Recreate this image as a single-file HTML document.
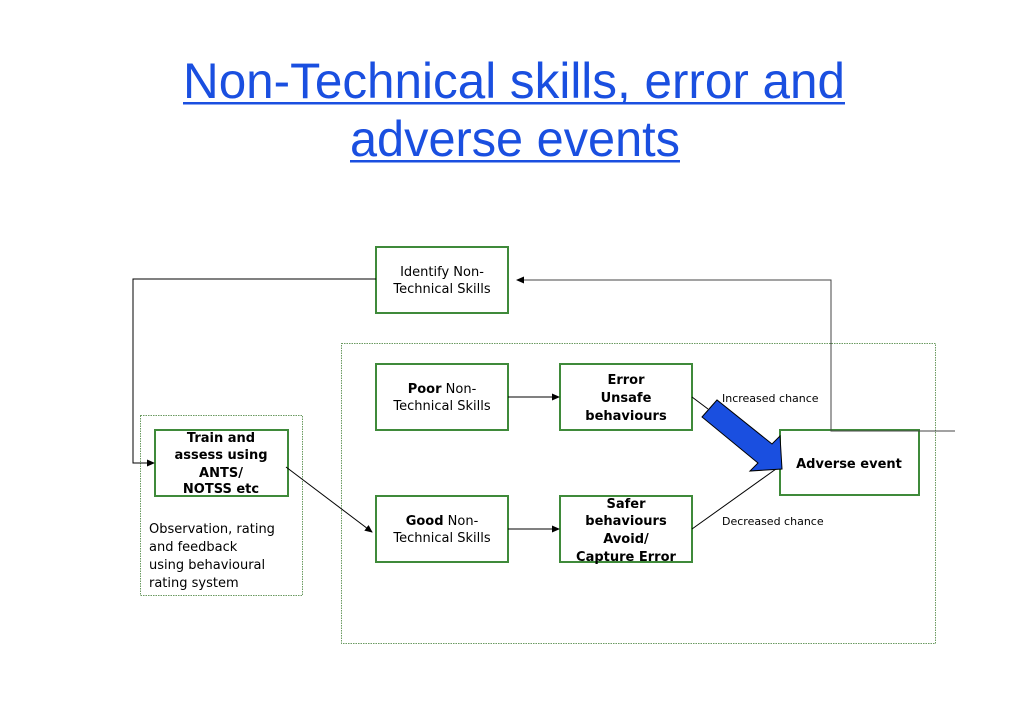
<!DOCTYPE html>
<html><head><meta charset="utf-8"><style>body{margin:0;background:#fff}svg{display:block}</style></head><body>
<svg width="1030" height="728" xmlns="http://www.w3.org/2000/svg" font-family="DejaVu Sans, sans-serif">
<defs><marker id="a" markerWidth="8" markerHeight="8" refX="7" refY="4" orient="auto" markerUnits="userSpaceOnUse"><path d="M0,0.5 L8,4 L0,7.5 z" fill="#000"/></marker></defs>
<g font-family="Liberation Sans, sans-serif" fill="#1a4fe0" font-size="50">
<text x="183" y="98" textLength="662" lengthAdjust="spacingAndGlyphs">Non-Technical skills, error and</text>
<text x="350" y="156" textLength="330" lengthAdjust="spacingAndGlyphs">adverse events</text>
<rect x="183" y="102" width="662" height="2.5"/>
<rect x="350" y="160" width="330" height="2.5"/>
</g>
<g fill="none" stroke="#6a9a60" stroke-width="1" stroke-dasharray="1.5,1">
<rect x="140.5" y="415.5" width="162" height="180"/>
<rect x="341.5" y="343.5" width="594" height="300"/>
</g>
<g fill="#fff" stroke="#3f8a3a" stroke-width="2">
<rect x="376" y="247" width="132" height="66"/>
<rect x="376" y="364" width="132" height="66"/>
<rect x="376" y="496" width="132" height="66"/>
<rect x="560" y="364" width="132" height="66"/>
<rect x="560" y="496" width="132" height="66"/>
<rect x="780" y="430" width="139" height="65"/>
<rect x="155" y="430" width="133" height="66"/>
</g>
<g stroke="#000" stroke-width="1" fill="none">
<polyline points="376,279 133,279 133,463 154,463" marker-end="url(#a)"/>
<polyline points="955,431 831,431 831,280 517,280" stroke="#444" marker-end="url(#a)"/>
<line x1="508" y1="397" x2="559" y2="397" marker-end="url(#a)"/>
<line x1="508" y1="529" x2="559" y2="529" marker-end="url(#a)"/>
<line x1="286" y1="467" x2="372" y2="532" marker-end="url(#a)"/>
<line x1="692" y1="529" x2="776" y2="469"/>
<line x1="692" y1="397" x2="708" y2="409"/>
</g>
<polygon points="702,417 717,400 772,444 780,436 782,469 750,471 758,463" fill="#1a4fe0" stroke="#000" stroke-width="1"/>
<g font-size="13" text-anchor="middle" fill="#000">
<text x="442" y="276">Identify Non-</text><text x="442" y="293">Technical Skills</text>
<text x="442" y="393"><tspan font-weight="bold">Poor</tspan> Non-</text><text x="442" y="410">Technical Skills</text>
<text x="442" y="525"><tspan font-weight="bold">Good</tspan> Non-</text><text x="442" y="542">Technical Skills</text>
<g font-weight="bold">
<text x="626" y="384">Error</text><text x="626" y="402">Unsafe</text><text x="626" y="420">behaviours</text>
<text x="626" y="508">Safer</text><text x="626" y="525">behaviours</text><text x="626" y="543">Avoid/</text><text x="626" y="561">Capture Error</text>
<text x="849" y="468">Adverse event</text>
<text x="221" y="442">Train and</text><text x="221" y="459">assess using</text><text x="221" y="477">ANTS/</text><text x="221" y="493">NOTSS etc</text>
</g>
</g>
<g font-size="13" fill="#000">
<text x="149" y="533">Observation, rating</text><text x="149" y="551">and feedback</text><text x="149" y="569">using behavioural</text><text x="149" y="587">rating system</text>
</g>
<g font-size="11" fill="#000">
<text x="722" y="402">Increased chance</text>
<text x="722" y="525">Decreased chance</text>
</g>
</svg>
</body></html>
